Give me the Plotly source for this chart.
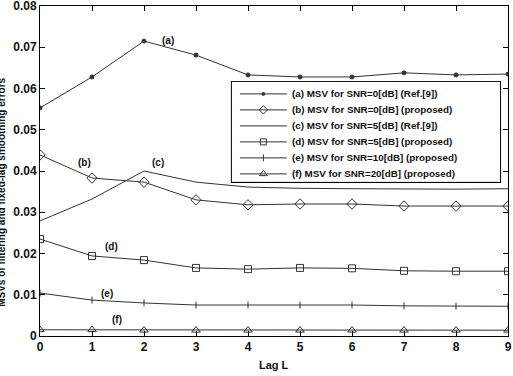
import plotly.graph_objects as go

lags = [0, 1, 2, 3, 4, 5, 6, 7, 8, 9]
msv_a = [0.0553, 0.0628, 0.0715, 0.0681, 0.0633, 0.0628, 0.0628, 0.0638, 0.0633, 0.0635]
msv_b = [0.0439, 0.0383, 0.0373, 0.0330, 0.0318, 0.0320, 0.0320, 0.0315, 0.0315, 0.0315]
msv_c = [0.0279, 0.0332, 0.0400, 0.0373, 0.0361, 0.0358, 0.0357, 0.0356, 0.0356, 0.0357]
msv_d = [0.0235, 0.0194, 0.0184, 0.0165, 0.0162, 0.0165, 0.0164, 0.0158, 0.0157, 0.0157]
msv_e = [0.0104, 0.0087, 0.0080, 0.0075, 0.0075, 0.0075, 0.0075, 0.0073, 0.0072, 0.0072]
msv_f = [0.0015, 0.0015, 0.0014, 0.0014, 0.0014, 0.0014, 0.0014, 0.0014, 0.0014, 0.0014]

names = [
    "(a) MSV for SNR=0[dB] (Ref.[9])",
    "(b) MSV for SNR=0[dB] (proposed)",
    "(c) MSV for SNR=5[dB] (Ref.[9])",
    "(d) MSV for SNR=5[dB] (proposed)",
    "(e) MSV for SNR=10[dB] (proposed)",
    "(f) MSV for SNR=20[dB] (proposed)",
]
series = [msv_a, msv_b, msv_c, msv_d, msv_e, msv_f]
labels = ["(a)", "(b)", "(c)", "(d)", "(e)", "(f)"]
label_x = [2.46, 0.85, 2.27, 1.38, 1.29, 1.48]
label_y = [0.0716, 0.0420, 0.0420, 0.0216, 0.0102, 0.0039]

line_color = "#333333"
symbols = ["circle", "diamond-open", None, "square-open", "line-ns", "triangle-up-open"]
plot_sizes = [4, 8, 0, 7, 5, 7.5]
legend_sizes = [3, 6.5, 0, 6, 5, 7]

FONT = "Liberation Sans"

fig = go.Figure()
for name, vals, sym, sz in zip(names, series, symbols, plot_sizes):
    if sym is None:
        fig.add_trace(go.Scatter(x=lags, y=vals, mode="lines", name=name, showlegend=False,
                                 line=dict(color=line_color, width=1)))
    else:
        fig.add_trace(go.Scatter(x=lags, y=vals, mode="lines+markers", name=name, showlegend=False,
                                 line=dict(color=line_color, width=1),
                                 marker=dict(symbol=sym, size=sz, color=line_color,
                                             line=dict(width=1, color=line_color))))

for lab, lx, ly in zip(labels, label_x, label_y):
    fig.add_annotation(x=lx, y=ly, text="<b>" + lab + "</b>", showarrow=False,
                       font=dict(size=10, color="#111111", family=FONT))

# ---- legend (drawn in an overlay frame) ----
box_x = [0.410, 0.983]
box_y = [0.467, 0.770]
fig.add_shape(type="rect", xref="paper", yref="paper",
              x0=box_x[0], x1=box_x[1], y0=box_y[0], y1=box_y[1],
              line=dict(color="black", width=2), fillcolor="white", layer="below")
for i, (name, sym, sz) in enumerate(zip(names, symbols, legend_sizes)):
    ry = 0.88 - i * 0.16
    fig.add_trace(go.Scatter(x=[0.03, 0.205], y=[ry, ry], mode="lines", showlegend=False,
                             xaxis="x2", yaxis="y2", hoverinfo="skip",
                             line=dict(color=line_color, width=1)))
    if sym is not None:
        fig.add_trace(go.Scatter(x=[0.1175], y=[ry], mode="markers", showlegend=False,
                                 xaxis="x2", yaxis="y2", hoverinfo="skip",
                                 marker=dict(symbol=sym, size=sz, color=line_color,
                                             line=dict(width=1, color=line_color))))
    fig.add_annotation(xref="x2", yref="y2", x=0.218, y=ry, xanchor="left",
                       text="<b>" + name + "</b>", showarrow=False,
                       font=dict(size=9.8, color="#111111", family=FONT))

# y-axis title (partly outside the page, as in the reference)
fig.add_annotation(xref="paper", yref="paper", x=-0.084, y=0.436,
                   xanchor="center", yanchor="middle",
                   text="<b>MSVs of filtering and fixed-lag smoothing errors</b>",
                   textangle=-90, showarrow=False,
                   font=dict(size=10, color="#111111", family=FONT))

fig.add_annotation(xref="paper", yref="paper", x=0.5, y=-0.088, yanchor="middle",
                   text="<b>Lag L</b>", showarrow=False,
                   font=dict(size=11, color="#111111", family=FONT))

axis_common = dict(showgrid=False, zeroline=False, showline=True, linecolor="black",
                   linewidth=1, mirror="allticks", ticks="inside", ticklen=5,
                   tickcolor="black", ticklabeloverflow="allow", automargin=False,
                   tickfont=dict(size=12, family=FONT, color="#111111"))

fig.update_xaxes(range=[0, 9], tickmode="array", tickvals=lags,
                 ticktext=["<b>%d</b>" % v for v in lags], **axis_common)
yt = [0, 0.01, 0.02, 0.03, 0.04, 0.05, 0.06, 0.07, 0.08]
fig.update_yaxes(range=[-0.00001, 0.08001], tickmode="array", tickvals=yt,
                 ticktext=["<b>0</b>"] + ["<b>%.2f</b>" % v for v in yt[1:]], **axis_common)

fig.update_layout(
    width=513, height=376,
    margin=dict(l=40, r=5, t=6, b=40, autoexpand=False),
    plot_bgcolor="white", paper_bgcolor="white",
    showlegend=False,
    xaxis2=dict(domain=box_x, range=[0, 1], anchor="y2", visible=False, fixedrange=True),
    yaxis2=dict(domain=box_y, range=[0, 1], anchor="x2", visible=False, fixedrange=True),
)

fig.write_html("out.html")
